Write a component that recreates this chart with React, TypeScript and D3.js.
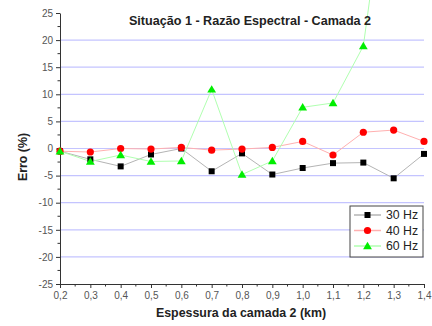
import { useRef, useEffect } from "react";
import * as d3 from "d3";

const thickness = [0.2, 0.3, 0.4, 0.5, 0.6, 0.7, 0.8, 0.9, 1.0, 1.1, 1.2, 1.3, 1.4];
const err30 = [-0.5, -2.0, -3.3, -1.1, 0.0, -4.2, -0.9, -4.8, -3.6, -2.7, -2.6, -5.5, -1.0];
const err40 = [-0.5, -0.65, 0.0, -0.1, 0.2, -0.3, -0.1, 0.2, 1.3, -1.2, 3.0, 3.4, 1.3];
const err60 = [-0.5, -2.4, -1.2, -2.4, -2.3, 10.9, -4.8, -2.3, 7.6, 8.4, 18.9, 60, 45];
const yTicks = [-25, -20, -15, -10, -5, 0, 5, 10, 15, 20, 25];
const gridValues = [-20, -15, -10, -5, 0, 5, 10, 15, 20];

type Series = { name: string; values: number[]; line: string; fill: string; shape: "square" | "circle" | "triangle" };

const series: Series[] = [
  { name: "30 Hz", values: err30, line: "#b4b4b4", fill: "#000000", shape: "square" },
  { name: "40 Hz", values: err40, line: "#ffb0b0", fill: "#ff0000", shape: "circle" },
  { name: "60 Hz", values: err60, line: "#b0ffb0", fill: "#00ee00", shape: "triangle" },
];

const width = 432;
const height = 326;
const margin = { top: 13, right: 8, bottom: 42, left: 60 };

function marker(sel: d3.Selection<SVGGElement, unknown, null, undefined>, s: Series, cx: number, cy: number) {
  if (s.shape === "square") {
    sel.append("rect").attr("x", cx - 3).attr("y", cy - 3).attr("width", 6).attr("height", 6).attr("fill", s.fill);
  } else if (s.shape === "circle") {
    sel.append("circle").attr("cx", cx).attr("cy", cy).attr("r", 3.6).attr("fill", s.fill);
  } else {
    sel
      .append("path")
      .attr("d", `M${cx},${cy - 4.2}L${cx + 4.4},${cy + 3.2}L${cx - 4.4},${cy + 3.2}Z`)
      .attr("fill", s.fill);
  }
}

export default function App() {
  const svgRef = useRef<SVGSVGElement>(null);

  useEffect(() => {
    if (!svgRef.current) return;
    const svg = d3.select(svgRef.current);
    svg.selectAll("*").remove();

    const x = d3.scaleLinear().domain([0.2, 1.4]).range([margin.left, width - margin.right]);
    const y = d3.scaleLinear().domain([-25, 25]).range([height - margin.bottom, margin.top]);
    const font = "Liberation Sans, Arial, sans-serif";

    // Grid
    svg
      .append("g")
      .selectAll("line")
      .data(gridValues)
      .join("line")
      .attr("x1", x(0.2))
      .attr("x2", x(1.4))
      .attr("y1", (d) => y(d))
      .attr("y2", (d) => y(d))
      .attr("stroke", "#c4c4ff")
      .attr("stroke-width", 1.2);

    // Y axis
    const yAxis = svg
      .append("g")
      .attr("transform", `translate(${x(0.2)},0)`)
      .call(d3.axisLeft(y).tickValues(yTicks).tickSize(4).tickSizeOuter(0).tickFormat((d) => String(d)));
    yAxis.select(".domain").attr("stroke", "#333");
    yAxis.selectAll(".tick line").attr("stroke", "#333");
    yAxis.selectAll(".tick text").attr("font-family", font).attr("font-size", 10).attr("fill", "#555").attr("x", -7);
    svg
      .append("g")
      .selectAll("line")
      .data(d3.range(-22.5, 25, 5))
      .join("line")
      .attr("x1", x(0.2) - 2.5)
      .attr("x2", x(0.2))
      .attr("y1", (d) => y(d))
      .attr("y2", (d) => y(d))
      .attr("stroke", "#333");

    // X axis
    const xAxis = svg
      .append("g")
      .attr("transform", `translate(0,${y(-25)})`)
      .call(
        d3
          .axisBottom(x)
          .tickValues(thickness)
          .tickSize(4)
          .tickSizeOuter(0)
          .tickFormat((d) => d3.format(".1f")(d as number).replace(".", ","))
      );
    xAxis.select(".domain").attr("stroke", "#333");
    xAxis.selectAll(".tick line").attr("stroke", "#333");
    xAxis.selectAll(".tick text").attr("font-family", font).attr("font-size", 10).attr("fill", "#555").attr("y", 8);
    svg
      .append("g")
      .selectAll("line")
      .data(d3.range(0.25, 1.4, 0.1))
      .join("line")
      .attr("x1", (d) => x(d))
      .attr("x2", (d) => x(d))
      .attr("y1", y(-25))
      .attr("y2", y(-25) + 2.5)
      .attr("stroke", "#333");

    // Lines
    const line = d3
      .line<number>()
      .x((_, i) => x(thickness[i]))
      .y((d) => y(d));
    for (const s of series) {
      svg.append("path").datum(s.values).attr("d", line).attr("fill", "none").attr("stroke", s.line).attr("stroke-width", 1);
    }
    for (const s of series) {
      const g = svg.append("g");
      s.values.forEach((v, i) => {
        if (v <= 25) marker(g, s, x(thickness[i]), y(v));
      });
    }

    // Title and labels
    svg
      .append("text")
      .attr("x", 250)
      .attr("y", 25)
      .attr("text-anchor", "middle")
      .attr("font-family", font)
      .attr("font-weight", "bold")
      .attr("font-size", 12.6)
      .attr("fill", "#222")
      .text("Situação 1 - Razão Espectral - Camada 2");
    svg
      .append("text")
      .attr("transform", `translate(27,157) rotate(-90)`)
      .attr("text-anchor", "middle")
      .attr("font-family", font)
      .attr("font-weight", "bold")
      .attr("font-size", 12.4)
      .attr("fill", "#222")
      .text("Erro (%)");
    svg
      .append("text")
      .attr("x", 241)
      .attr("y", 317)
      .attr("text-anchor", "middle")
      .attr("font-family", font)
      .attr("font-weight", "bold")
      .attr("font-size", 12.4)
      .attr("fill", "#222")
      .text("Espessura da camada 2 (km)");

    // Legend
    const lg = svg.append("g");
    lg.append("rect")
      .attr("x", 350)
      .attr("y", 206)
      .attr("width", 73)
      .attr("height", 51)
      .attr("fill", "#fff")
      .attr("stroke", "#444")
      .attr("stroke-width", 1);
    series.forEach((s, i) => {
      const cy = 215 + i * 15.5;
      lg.append("line").attr("x1", 354).attr("x2", 381).attr("y1", cy).attr("y2", cy).attr("stroke", s.line).attr("stroke-width", 1.5);
      marker(lg, s, 367.5, cy);
      lg.append("text")
        .attr("x", 386)
        .attr("y", cy)
        .attr("dy", "0.35em")
        .attr("font-family", font)
        .attr("font-size", 12.3)
        .attr("fill", "#222")
        .text(s.name);
    });
  }, []);

  return (
    <svg
      ref={svgRef}
      width={width}
      height={height}
      viewBox={`0 0 ${width} ${height}`}
      style={{ position: "absolute", left: 0, top: 0, background: "#fff" }}
    />
  );
}
